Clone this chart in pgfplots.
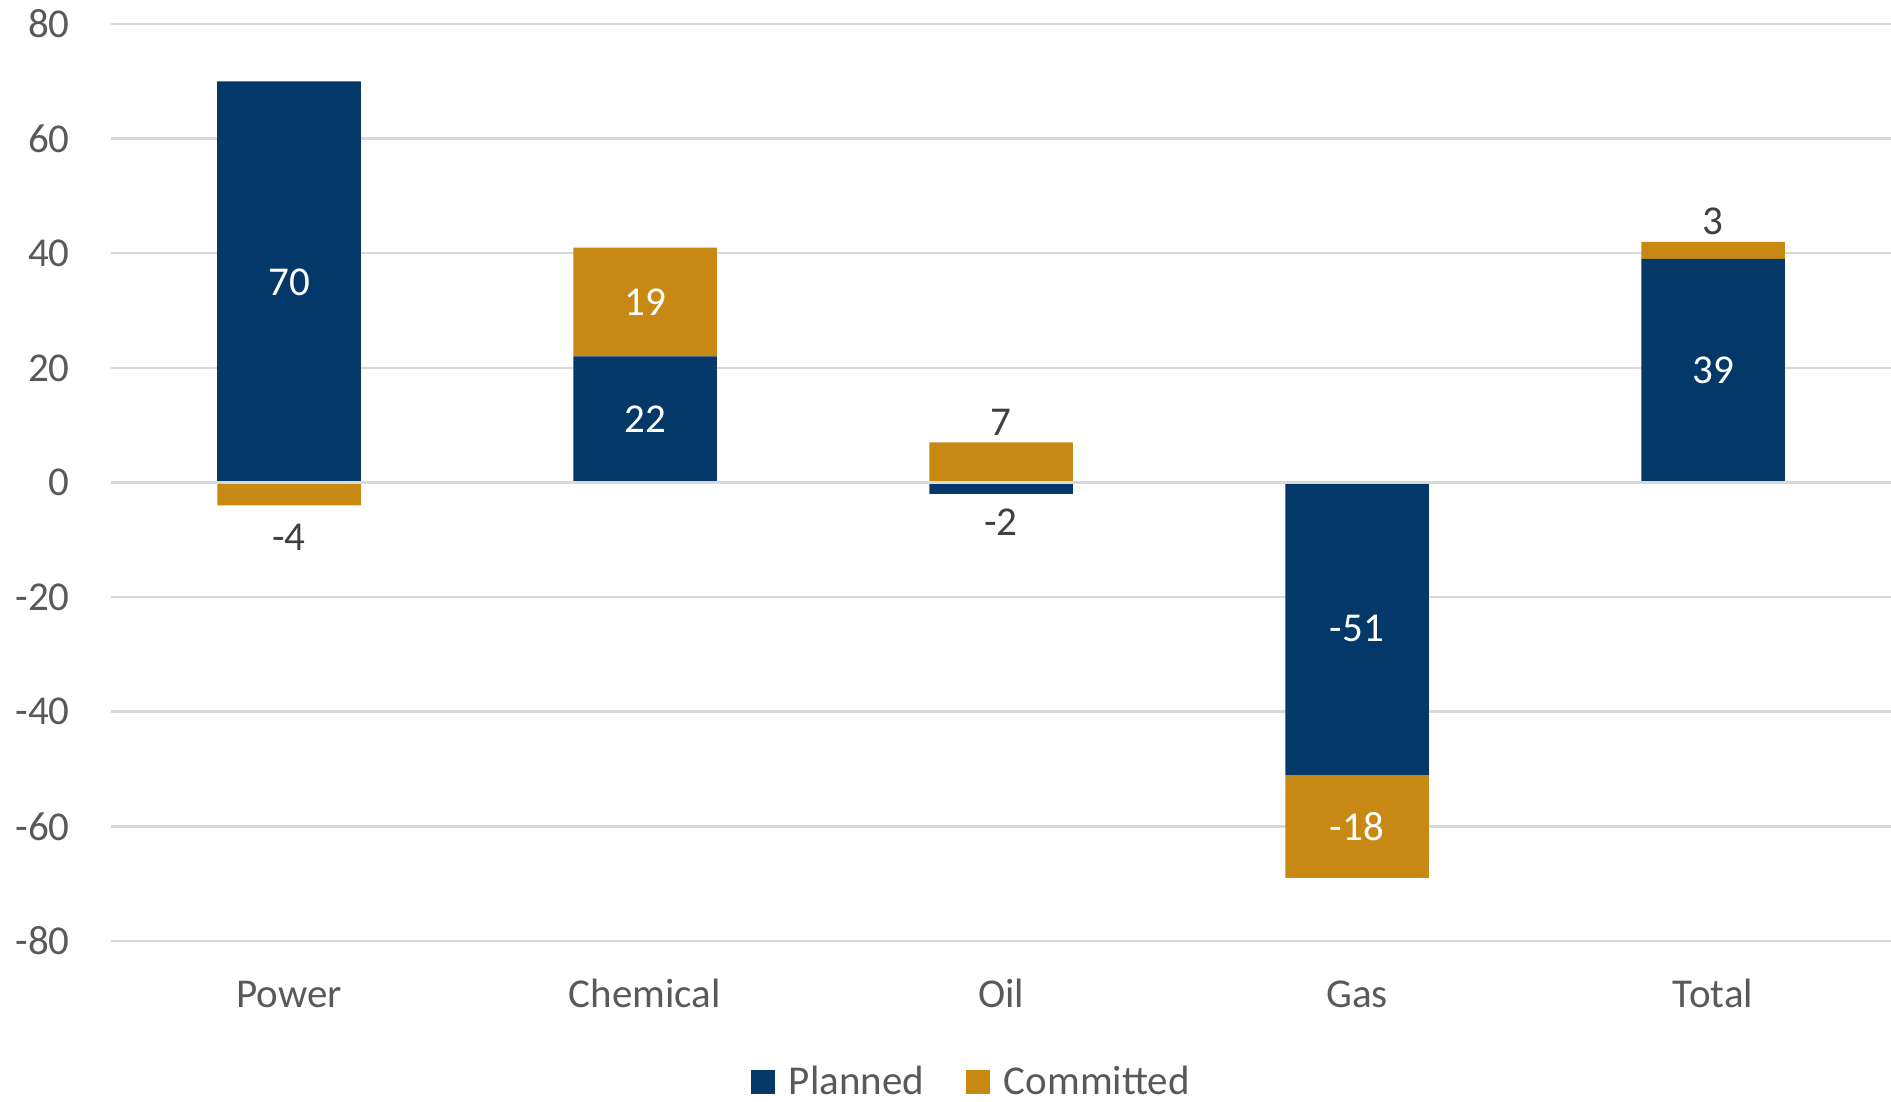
\documentclass[border=0pt]{standalone}
\usepackage{fontspec}
\setmainfont{Carlito}
\usepackage{pgfplots}
\usepackage{pgfplotstable}
\pgfplotsset{compat=1.18}

\definecolor{planned}{HTML}{033868}
\definecolor{committed}{HTML}{C88914}
\definecolor{gridgray}{HTML}{D9D9D9}
\definecolor{ticktext}{HTML}{595959}
\definecolor{labeltext}{HTML}{404040}

\newcommand{\chartfont}{\fontsize{20.5}{24}\selectfont}

% positive and negative parts are stacked separately
\pgfplotstableread{
x planned committed
0 70 0
1 22 19
2 0  7
3 0  0
4 39 3
}\positives
\pgfplotstableread{
x planned committed
0 0   -4
1 0   0
2 -2  0
3 -51 -18
4 0   0
}\negatives
% value labels: inside the segments
\pgfplotstableread{
x y lab
0 35 70
1 11 22
1 31.5 19
3 -25.5 -51
3 -60 -18
4 19.5 39
}\insidelabels
% value labels: beyond the end of short segments
\pgfplotstableread{
x y lab
0 -9.5 -4
2 10.5 7
2 -7 -2
4 45.5 3
}\outsidelabels

\pgfplotsset{
  base/.style={
    width=890pt, height=458.5pt, scale only axis,
    xmin=-0.5, xmax=4.5, ymin=-80, ymax=80,
    clip=false,
  },
}

\begin{document}
\begin{tikzpicture}
\path[use as bounding box] (-55.5pt,-80.5pt) rectangle (890pt,470.5pt);

\begin{axis}[base,
  ybar stacked, bar width=71.75pt,
  ymajorgrids, grid style={gridgray, line width=1.25pt},
  axis line style={draw=none}, major tick length=0pt,
  xtick={0,...,4}, xticklabels={Power,Chemical,Oil,Gas,Total},
  ytick={-80,-60,...,80}, yticklabels={-80,-60,-40,-20,0,20,40,60,80},
  ticklabel style={font=\chartfont, text=ticktext},
  xticklabel style={anchor=base, yshift=-33.25pt},
  yticklabel style={anchor=east, inner sep=0pt, xshift=-20.5pt},
  legend style={at={(0.484,-0.154)}, anchor=center, draw=none,
    font=\chartfont, text=ticktext, legend columns=2,
    /tikz/every odd column/.style={column sep=4.8pt},
    /tikz/every even column/.style={column sep=19pt}},
  legend image code/.code={\fill[#1] (0pt,-6pt) rectangle (12pt,6pt);},
]
\addplot[fill=planned, draw=none] table[x=x, y=planned] {\positives};
\addlegendentry{Planned}
\addplot[fill=committed, draw=none] table[x=x, y=committed] {\positives};
\addlegendentry{Committed}
\end{axis}

\begin{axis}[base, hide axis, ybar stacked, bar width=71.75pt]
\addplot[fill=planned, draw=none] table[x=x, y=planned] {\negatives};
\addplot[fill=committed, draw=none] table[x=x, y=committed] {\negatives};
\end{axis}

\begin{axis}[base, hide axis]
\draw[gridgray, line width=1.25pt] (axis cs:-0.5,0) -- (axis cs:4.5,0);
\addplot[draw=none, mark=none, nodes near coords, point meta=explicit symbolic,
  every node near coord/.append style={anchor=center, font=\chartfont, text=white}]
  table[x=x, y=y, meta=lab] {\insidelabels};
\addplot[draw=none, mark=none, nodes near coords, point meta=explicit symbolic,
  every node near coord/.append style={anchor=center, font=\chartfont, text=labeltext}]
  table[x=x, y=y, meta=lab] {\outsidelabels};
\end{axis}
\end{tikzpicture}
\end{document}
